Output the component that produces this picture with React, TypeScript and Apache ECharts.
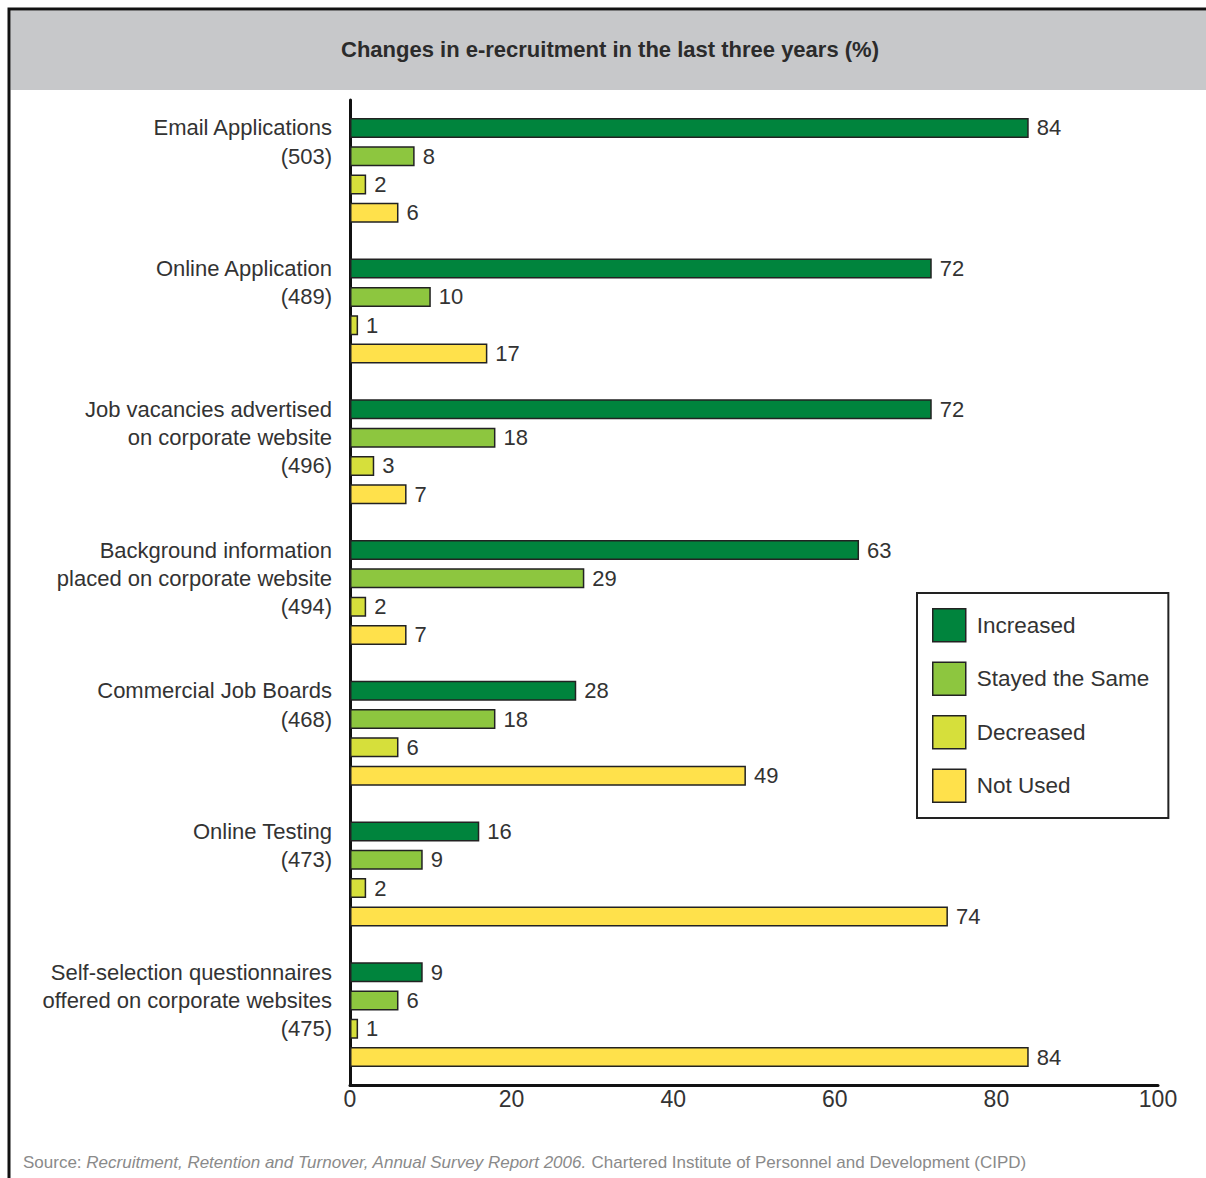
import React, { useEffect, useRef } from "react";
import * as echarts from "echarts";

const categories = [
  "Email Applications",
  "Online Application",
  "Job vacancies advertised\non corporate website",
  "Background information\nplaced on corporate website",
  "Commercial Job Boards",
  "Online Testing",
  "Self-selection questionnaires\noffered on corporate websites",
];
const sampleSizes = [503, 489, 496, 494, 468, 473, 475];

const seriesNames = ["Increased", "Stayed the Same", "Decreased", "Not Used"];
const increased = [84, 72, 72, 63, 28, 16, 9];
const stayedSame = [8, 10, 18, 29, 18, 9, 6];
const decreased = [2, 1, 3, 2, 6, 2, 1];
const notUsed = [6, 17, 7, 7, 49, 74, 84];
const seriesColors = ["#00843d", "#8dc63f", "#d6df3b", "#ffe14b"];

const xTicks = [0, 20, 40, 60, 80, 100];

const titleText = "Changes in e-recruitment in the last three years (%)";

const FONT = "'Liberation Sans', Arial, Helvetica, sans-serif";

export default function App() {
  const ref = useRef<HTMLDivElement>(null);
  useEffect(() => {
    if (!ref.current) return;
    const chart = echarts.init(ref.current, undefined, { renderer: "svg" });
    const labels = categories.map((c, i) => {
      const lines = [...c.split("\n"), `(${sampleSizes[i]})`];
      while (lines.length < 4) lines.push(" ");
      return lines.join("\n");
    });
    const values = [increased, stayedSame, decreased, notUsed];
    chart.setOption({
      animation: false,
      textStyle: { fontFamily: FONT },
      graphic: [
        {
          type: "rect",
          shape: { x: 10.5, y: 10.5, width: 1200, height: 79.5 },
          style: { fill: "#c7c8ca" },
          z: 0,
        },
        {
          type: "rect",
          shape: { x: 9, y: 9, width: 1300, height: 1300 },
          style: { fill: "none", stroke: "#111", lineWidth: 3 },
          z: 0,
        },
        {
          type: "text",
          x: 610,
          y: 49,
          style: {
            text: titleText,
            fontFamily: FONT,
            fontSize: 22,
            fontWeight: "bold",
            fill: "#2b2b2b",
            textAlign: "center",
            textVerticalAlign: "middle",
          },
          z: 1,
        },
        {
          type: "text",
          x: 23,
          y: 1162,
          style: {
            text: "Source: {i|Recruitment, Retention and Turnover, Annual Survey Report 2006.} Chartered Institute of Personnel and Development (CIPD)",
            fontFamily: FONT,
            fontSize: 17,
            fill: "#8a8a8a",
            textAlign: "left",
            textVerticalAlign: "middle",
            rich: {
              i: { fontStyle: "italic", fontFamily: FONT, fontSize: 17, fill: "#8a8a8a" },
            },
          },
          z: 1,
        },
      ],
      legend: {
        orient: "vertical",
        left: 917,
        top: 593,
        padding: [15, 19, 15, 15],
        backgroundColor: "#fff",
        borderColor: "#222",
        borderWidth: 2,
        itemWidth: 33,
        itemHeight: 33,
        itemGap: 19,
        icon: "rect",
        itemStyle: { borderColor: "#222", borderWidth: 1.5 },
        textStyle: { fontSize: 22.5, color: "#333", fontFamily: FONT, padding: [0, 0, 0, 6] },
        data: seriesNames,
      },
      grid: { left: 350, right: 48, top: 100, height: 985 },
      xAxis: {
        type: "value",
        min: xTicks[0],
        max: xTicks[xTicks.length - 1],
        interval: 20,
        splitLine: { show: false },
        axisTick: { show: false },
        axisLine: { show: true, lineStyle: { color: "#111", width: 3 } },
        axisLabel: { fontSize: 23, color: "#333", margin: 2, fontFamily: FONT },
      },
      yAxis: {
        type: "category",
        inverse: true,
        data: labels,
        axisTick: { show: false },
        axisLine: { show: true, lineStyle: { color: "#111", width: 3 } },
        axisLabel: {
          fontSize: 22,
          color: "#333",
          lineHeight: 28.3,
          align: "right",
          margin: 18,
          fontFamily: FONT,
        },
      },
      series: seriesNames.map((name, k) => ({
        name,
        type: "bar",
        data: values[k],
        barWidth: 20,
        barGap: "41.5%",
        itemStyle: { color: seriesColors[k], borderColor: "#222", borderWidth: 1.5 },
        label: {
          show: true,
          position: "right",
          distance: 8,
          fontSize: 22,
          color: "#333",
          fontFamily: FONT,
        },
      })),
    });
    return () => chart.dispose();
  }, []);
  return (
    <div
      ref={ref}
      style={{ position: "absolute", left: 0, top: 0, width: 1206, height: 1178 }}
    />
  );
}
